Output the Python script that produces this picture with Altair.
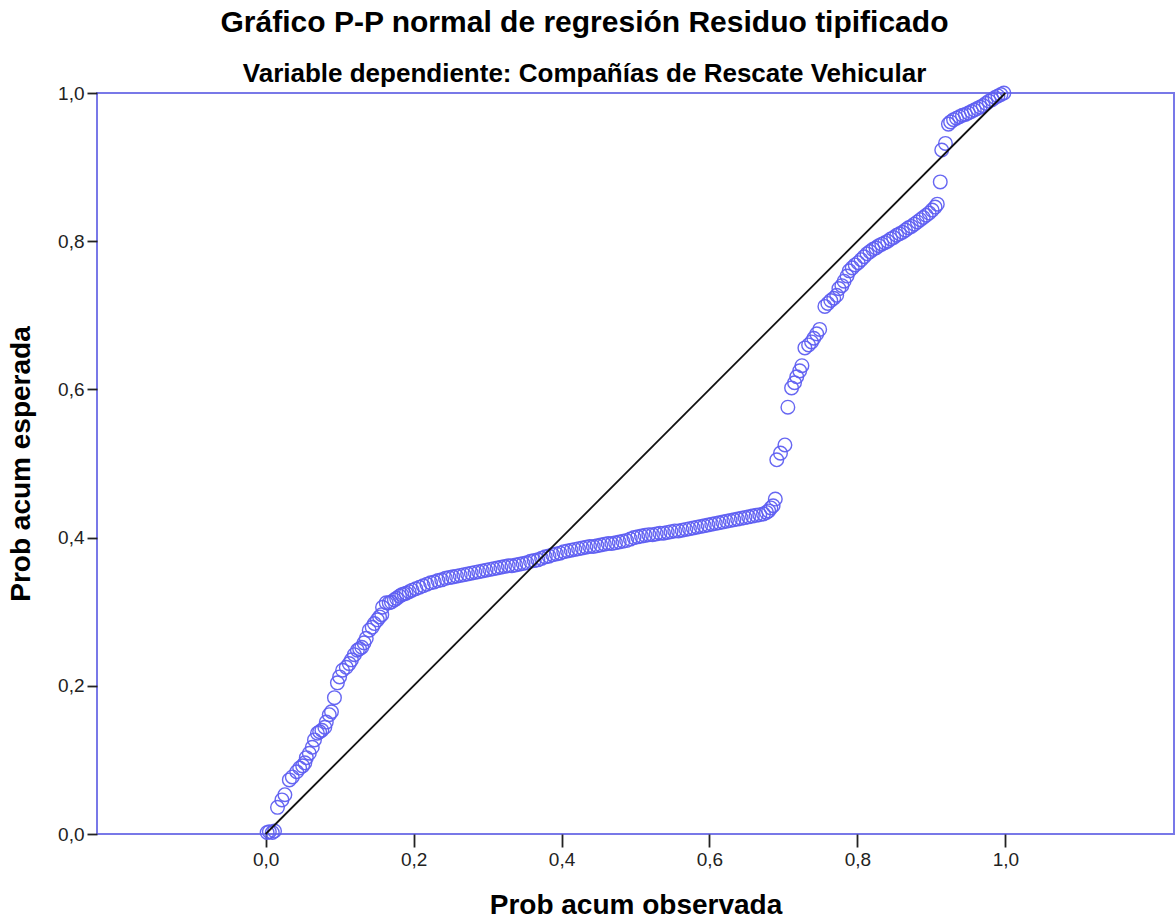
import altair as alt
import pandas as pd

low_x = [0.002, 0.005, 0.009, 0.012, 0.016, 0.022, 0.026, 0.032, 0.036, 0.042, 0.046, 0.050, 0.053, 0.055,
         0.059, 0.063, 0.066, 0.070, 0.073, 0.076, 0.080, 0.082, 0.086, 0.089, 0.093, 0.097, 0.100, 0.104,
         0.109, 0.113, 0.116, 0.120, 0.124, 0.127, 0.130, 0.133, 0.136, 0.140, 0.144, 0.147, 0.151, 0.154,
         0.157, 0.158, 0.163, 0.167, 0.170, 0.174, 0.177, 0.181, 0.184, 0.187, 0.190, 0.194, 0.198, 0.203]
low_y = [0.002, 0.003, 0.002, 0.004, 0.036, 0.046, 0.053, 0.073, 0.077, 0.084, 0.089, 0.092, 0.096, 0.103,
         0.109, 0.117, 0.127, 0.136, 0.138, 0.140, 0.144, 0.151, 0.161, 0.165, 0.184, 0.204, 0.212, 0.221,
         0.225, 0.230, 0.235, 0.242, 0.248, 0.250, 0.252, 0.258, 0.264, 0.275, 0.279, 0.284, 0.289, 0.293,
         0.296, 0.306, 0.312, 0.312, 0.313, 0.316, 0.318, 0.321, 0.323, 0.324, 0.325, 0.327, 0.329, 0.331]

mid_x = [0.208, 0.213, 0.218, 0.223, 0.228, 0.233, 0.238, 0.243, 0.248, 0.253,
         0.258, 0.263, 0.268, 0.273, 0.278, 0.283, 0.288, 0.293, 0.298, 0.303,
         0.308, 0.313, 0.318, 0.323, 0.328, 0.333, 0.338, 0.343, 0.348, 0.353,
         0.358, 0.363, 0.368, 0.373, 0.378, 0.383, 0.388, 0.393, 0.398, 0.403,
         0.408, 0.413, 0.418, 0.423, 0.428, 0.433, 0.438, 0.443, 0.448, 0.453,
         0.458, 0.463, 0.468, 0.473, 0.478, 0.483, 0.488, 0.493, 0.498, 0.503,
         0.508, 0.513, 0.518, 0.523, 0.528, 0.533, 0.538, 0.543, 0.548, 0.553,
         0.558, 0.563, 0.568, 0.573, 0.578, 0.583, 0.588, 0.593, 0.598, 0.603,
         0.608, 0.613, 0.618, 0.623, 0.628, 0.633, 0.638, 0.643, 0.648, 0.653,
         0.658, 0.663, 0.668, 0.673, 0.677, 0.680, 0.683, 0.686, 0.689]
mid_y = [0.333, 0.335, 0.337, 0.339, 0.340, 0.342, 0.343, 0.345, 0.346, 0.347,
         0.348, 0.349, 0.350, 0.351, 0.352, 0.353, 0.354, 0.355, 0.356, 0.357,
         0.358, 0.359, 0.360, 0.361, 0.362, 0.362, 0.363, 0.364, 0.365, 0.366,
         0.368, 0.369, 0.370, 0.372, 0.374, 0.375, 0.377, 0.378, 0.379, 0.381,
         0.382, 0.383, 0.384, 0.385, 0.386, 0.387, 0.388, 0.388, 0.389, 0.390,
         0.391, 0.392, 0.392, 0.393, 0.394, 0.395, 0.396, 0.398, 0.400, 0.401,
         0.402, 0.403, 0.404, 0.404, 0.405, 0.406, 0.406, 0.407, 0.408, 0.409,
         0.409, 0.410, 0.411, 0.412, 0.413, 0.414, 0.415, 0.416, 0.417, 0.418,
         0.419, 0.420, 0.421, 0.422, 0.423, 0.424, 0.425, 0.426, 0.427, 0.428,
         0.429, 0.430, 0.431, 0.432, 0.434, 0.436, 0.440, 0.443, 0.452]

high_x = [0.691, 0.696, 0.702, 0.706, 0.711, 0.715, 0.718, 0.722, 0.725, 0.729, 0.734, 0.738, 0.741, 0.745, 0.749,
          0.756, 0.760, 0.764, 0.768, 0.772, 0.775, 0.779, 0.782, 0.786, 0.789,
          0.793, 0.797, 0.801, 0.805, 0.809, 0.813, 0.817, 0.821, 0.825, 0.829,
          0.833, 0.837, 0.841, 0.845, 0.849, 0.853, 0.857, 0.861, 0.865, 0.869,
          0.873, 0.877, 0.881, 0.885, 0.889, 0.893, 0.897, 0.901, 0.905, 0.908,
          0.912,
          0.914, 0.919, 0.923, 0.926, 0.930, 0.934, 0.938, 0.942, 0.946, 0.950,
          0.954, 0.958, 0.962, 0.966, 0.970, 0.974, 0.978, 0.982, 0.986, 0.990,
          0.994, 0.998]
high_y = [0.505, 0.514, 0.525, 0.576, 0.602, 0.609, 0.617, 0.625, 0.632, 0.656, 0.660, 0.664, 0.669, 0.675, 0.681,
          0.712, 0.716, 0.720, 0.723, 0.727, 0.736, 0.740, 0.746, 0.753, 0.760,
          0.764, 0.768, 0.771, 0.775, 0.779, 0.783, 0.786, 0.789, 0.791, 0.794,
          0.796, 0.798, 0.800, 0.803, 0.805, 0.808, 0.810, 0.812, 0.815, 0.818,
          0.820, 0.823, 0.826, 0.829, 0.832, 0.835, 0.838, 0.842, 0.846, 0.850,
          0.880,
          0.923, 0.932, 0.958, 0.961, 0.964, 0.966, 0.968, 0.970, 0.971, 0.973,
          0.975, 0.977, 0.979, 0.981, 0.983, 0.986, 0.989, 0.991, 0.994, 0.996,
          0.998, 1.000]

diag = [0.0, 1.0]
ticks = [0.0, 0.2, 0.4, 0.6, 0.8, 1.0]

pts = pd.DataFrame({"x": low_x + mid_x + high_x, "y": low_y + mid_y + high_y})
ref = pd.DataFrame({"x": diag, "y": diag})

FONT = "Liberation Sans"
label_expr = "replace(format(datum.value, '.1f'), '.', ',')"

xscale = alt.Scale(domain=[-0.228, 1.228], nice=False, zero=False)
yscale = alt.Scale(domain=[0, 1], nice=False)

xaxis = alt.Axis(values=ticks, labelExpr=label_expr, grid=False, domain=False,
                 tickColor="#222222", tickSize=13, tickWidth=1.8,
                 labelFont=FONT, labelFontSize=19, labelColor="#222222", labelPadding=3,
                 title="Prob acum observada", titleFont=FONT, titleFontSize=28,
                 titleFontWeight="bold", titleColor="#000000", titlePadding=22)
yaxis = alt.Axis(values=ticks, labelExpr=label_expr, grid=False, domain=False,
                 tickColor="#222222", tickSize=10, tickWidth=1.8,
                 labelFont=FONT, labelFontSize=19, labelColor="#222222", labelPadding=3,
                 title="Prob acum esperada", titleFont=FONT, titleFontSize=28,
                 titleFontWeight="bold", titleColor="#000000", titlePadding=22)

points = alt.Chart(pts).mark_point(
    shape="circle", filled=False, size=185, color="#5f5ff2", strokeWidth=1.4, opacity=0.95
).encode(
    x=alt.X("x:Q", scale=xscale, axis=xaxis),
    y=alt.Y("y:Q", scale=yscale, axis=yaxis),
)

line = alt.Chart(ref).mark_line(color="#111111", strokeWidth=1.8).encode(
    x=alt.X("x:Q", scale=xscale),
    y=alt.Y("y:Q", scale=yscale),
)

chart = alt.layer(points, line).properties(
    width=1077,
    height=741,
    background="#ffffff",
    autosize=alt.AutoSizeParams(type="none"),
    padding={"left": 97, "top": 93, "right": 1, "bottom": 87},
    title=alt.TitleParams(
        text="Gráfico P-P normal de regresión Residuo tipificado",
        subtitle="Variable dependiente: Compañías de Rescate Vehicular",
        anchor="middle", frame="group", dx=-51, offset=-4,
        font=FONT, fontSize=30, fontWeight="bold", color="#000000",
        subtitleFont=FONT, subtitleFontSize=26, subtitleFontWeight="bold",
        subtitleColor="#000000", subtitlePadding=23,
    ),
).configure_view(
    stroke="#7878e8", strokeWidth=2
)

chart.save("out.html", embed_options={"renderer": "svg", "actions": False})
